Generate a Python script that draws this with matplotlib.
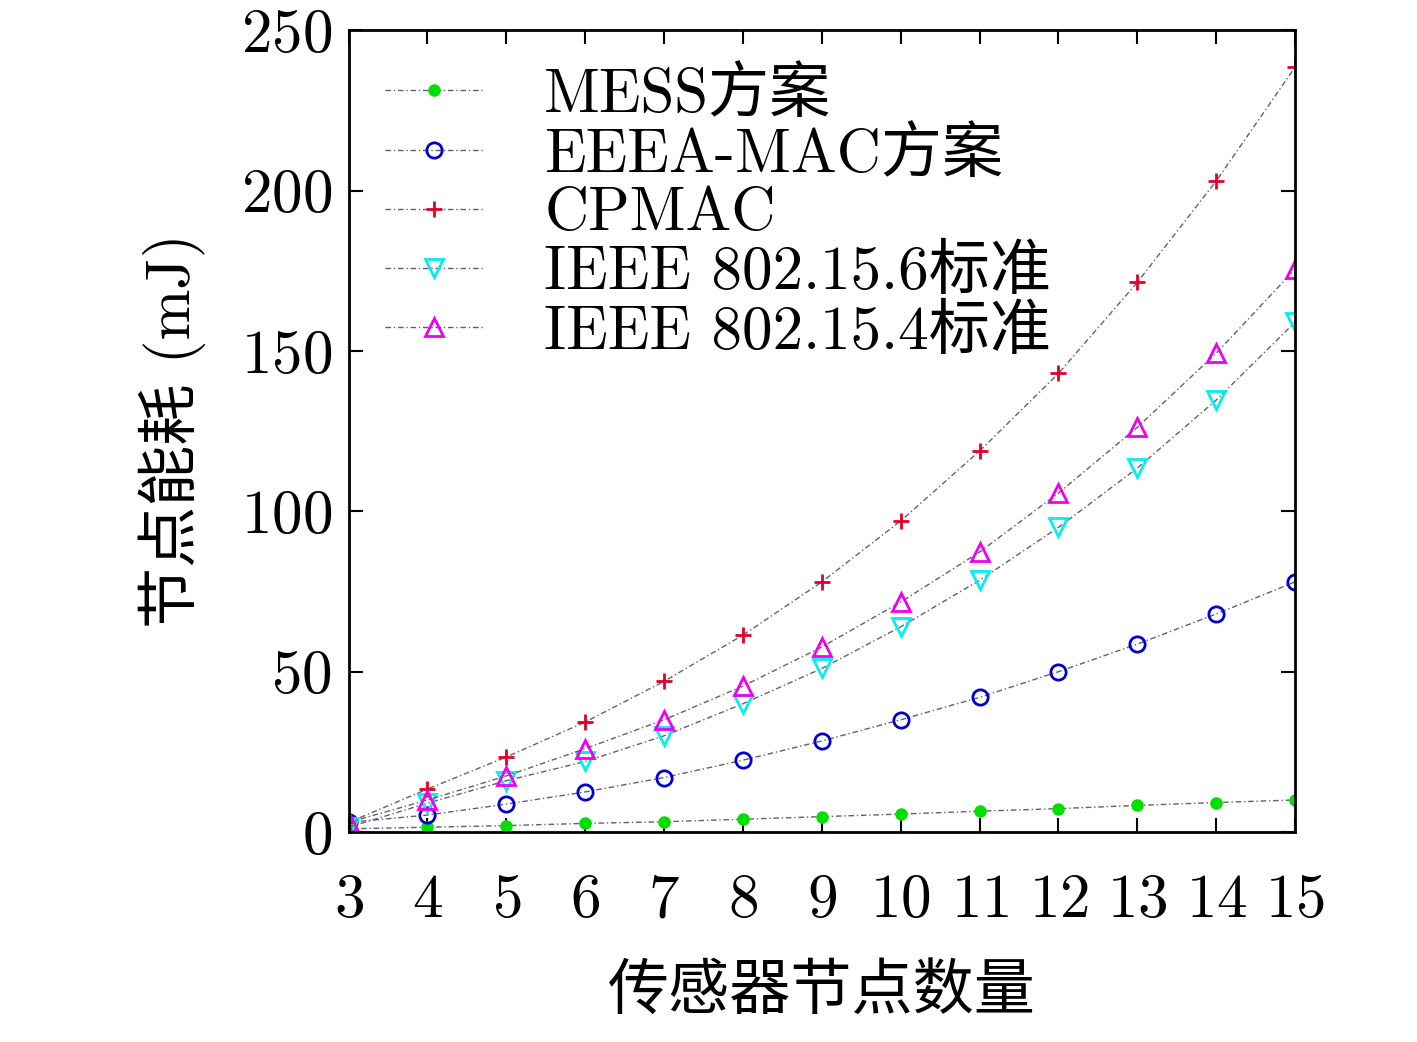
import matplotlib
matplotlib.use("Agg")
import matplotlib.pyplot as plt

plt.rcParams['font.family'] = ['cmr10', 'Noto Sans CJK SC']
plt.rcParams['axes.formatter.use_mathtext'] = True
plt.rcParams['mathtext.fontset'] = 'cm'

x = list(range(3, 16))
mess = [1, 1.5, 2, 2.7, 3.2, 4, 4.8, 5.6, 6.5, 7.3, 8.3, 9.2, 10]
eeea = [3, 5.3, 8.7, 12.5, 17, 22.4, 28.4, 35, 42, 50, 58.6, 68, 78]
cpmac = [3, 13.4, 23.4, 34.3, 47, 61.4, 78, 97, 118.8, 143, 171.4, 203, 238.5]
ieee6 = [1.5, 9, 16, 22, 30, 40, 51, 64, 78.5, 95, 113.5, 134.7, 159]
ieee4 = [3, 10, 17.5, 26, 35, 45.5, 57.7, 71.7, 87.3, 105.7, 126.2, 149.3, 175.5]
labels = ['MESS方案', 'EEEA-MAC方案', 'CPMAC', 'IEEE 802.15.6标准', 'IEEE 802.15.4标准']

fig = plt.figure(figsize=(14.17, 10.42), dpi=100)
ax = fig.add_axes([0.246, 0.2015, 0.668, 0.7695])
ls = (0, (4, 2, 1, 2))
lc = '#606070'
ax.plot(x, mess, color=lc, marker='o', ms=8, mfc='#00e000', mec='#00e000', ls=ls, lw=1, label=labels[0])
ax.plot(x, eeea, color=lc, marker='o', ms=11, mfc='none', mec='#0000d0', mew=2, ls=ls, lw=1, label=labels[1])
ax.plot(x, cpmac, color=lc, marker='+', ms=12, mec='#e0002a', mew=2, ls=ls, lw=1, label=labels[2])
ax.plot(x, ieee6, color=lc, marker='v', ms=13, mfc='none', mec='#00f0f0', mew=2, ls=ls, lw=1, label=labels[3])
ax.plot(x, ieee4, color=lc, marker='^', ms=13, mfc='none', mec='#f000f0', mew=2, ls=ls, lw=1, label=labels[4])

ax.set_xlim(3, 15)
ax.set_ylim(0, 250)
ax.set_xticks(x)
ax.set_yticks([0, 50, 100, 150, 200, 250])
ax.tick_params(direction='in', labelsize=44, length=10, width=1.5, top=True, right=True)
ax.tick_params(axis='x', pad=30)
ax.tick_params(axis='y', pad=12)
for s in ax.spines.values():
    s.set_linewidth(2)
ax.set_xlabel('传感器节点数量', fontsize=44, labelpad=25)
ax.set_ylabel('节点能耗 (mJ)', fontsize=44, labelpad=25)
ax.legend(loc='upper left', fontsize=44, frameon=False, handlelength=1.6, borderaxespad=0.3,
          labelspacing=0.05, handletextpad=1.0, borderpad=0.3)
fig.savefig('out.png', dpi=100)
